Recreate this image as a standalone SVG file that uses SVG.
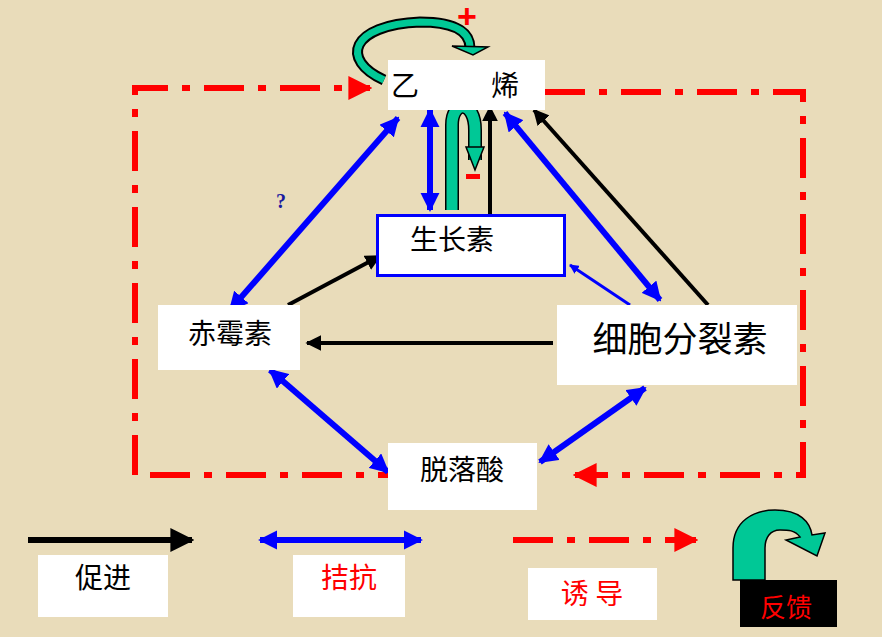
<svg xmlns="http://www.w3.org/2000/svg" width="882" height="637" viewBox="0 0 882 637">
<defs>
<marker id="bk" viewBox="0 0 10 10" refX="9" refY="5" markerWidth="4" markerHeight="4" orient="auto-start-reverse"><path d="M0,0L10,5L0,10z" fill="#000"/></marker>
<marker id="bl" viewBox="0 0 10 10" refX="9" refY="5" markerWidth="3.2" markerHeight="3.2" orient="auto-start-reverse"><path d="M0,0L10,5L0,10z" fill="#0000ff"/></marker>
<marker id="rd" viewBox="0 0 10 10" refX="9" refY="5" markerWidth="4" markerHeight="4" orient="auto-start-reverse"><path d="M0,0L10,5L0,10z" fill="#ff0000"/></marker>
</defs>
<style>
.box{fill:#fff}
.t{font-family:"Noto Sans CJK SC","Liberation Serif",serif;font-size:28px;fill:#000;text-anchor:middle;dominant-baseline:central}
.bk{stroke:#000;stroke-width:4;fill:none;marker-end:url(#bk)}
.bl{stroke:#0000ff;stroke-width:6;fill:none;marker-end:url(#bl);marker-start:url(#bl)}
.rd{stroke:#ff0000;stroke-width:6;fill:none;stroke-dasharray:40 14 8 14}
</style>
<rect width="882" height="637" fill="#e9dcba"/>
<g id="connectors">
<path class="rd" d="M135,475V88H370" marker-end="url(#rd)"/>
<path class="rd" d="M545,92H803V475H575" marker-end="url(#rd)"/>
<path class="rd" d="M150,475H388"/>
<line class="bl" x1="398" y1="118" x2="230" y2="310"/>
<line class="bl" x1="430" y1="110" x2="430" y2="210"/>
<line class="bl" x1="505" y1="113" x2="660" y2="300"/>
<line class="bl" x1="270" y1="370" x2="388" y2="472"/>
<line class="bl" x1="645" y1="388" x2="540" y2="462"/>
<line stroke="#0000ff" stroke-width="3" x1="630" y1="305" x2="570" y2="265" marker-end="url(#bl)"/>
<line class="bk" x1="490" y1="214" x2="490" y2="107"/>
<line class="bk" x1="708" y1="305" x2="534" y2="110"/>
<line class="bk" x1="288" y1="305" x2="380" y2="256"/>
<line class="bk" x1="553" y1="343" x2="307" y2="343"/>
</g>
<g id="loops">
<path d="M384,80C340,60 350,25 420,22C460,22 470,35 470,48" stroke="#000" stroke-width="11" fill="none"/>
<path d="M384,80C340,60 350,25 420,22C460,22 470,35 470,48" stroke="#00c896" stroke-width="7" fill="none"/>
<polygon points="452,46 488,47 473,55" fill="#00c896" stroke="#000" stroke-width="1.5"/>
<path d="M452,210V125C452,100 475,100 475,130V160" stroke="#000" stroke-width="14" fill="none"/>
<path d="M452,210V125C452,100 475,100 475,130V160" stroke="#00c896" stroke-width="11" fill="none"/>
<polygon points="466,147 484,147 475,170" fill="#00c896" stroke="#000" stroke-width="1.5"/>
<text x="467" y="28" font-family="Liberation Sans,sans-serif" font-size="34" font-weight="bold" fill="#ff0000" text-anchor="middle">+</text>
<rect x="466" y="174" width="14" height="5" fill="#ff0000"/>
<text x="281" y="208" font-family="Liberation Serif,serif" font-size="20" font-weight="bold" fill="#1a1aa0" text-anchor="middle">?</text>
</g>
<g id="n-yixi"><rect class="box" x="388" y="60" width="157" height="50"/><text class="t" x="405" y="84">乙</text><text class="t" x="505" y="84">烯</text></g>
<g id="n-shengzhangsu"><rect x="377.5" y="215.5" width="187" height="60" fill="#fff" stroke="#0000ff" stroke-width="3"/><text class="t" x="452" y="238">生长素</text></g>
<g id="n-chimeisu"><rect class="box" x="158" y="305" width="142" height="65"/><text class="t" x="230" y="332">赤霉素</text></g>
<g id="n-xibao"><rect class="box" x="557" y="305" width="240" height="80"/><text class="t" x="680" y="336" style="font-size:35px">细胞分裂素</text></g>
<g id="n-tuoluosuan"><rect class="box" x="388" y="443" width="149" height="67"/><text class="t" x="462" y="468">脱落酸</text></g>
<g id="legend">
<line class="bk" x1="28" y1="540" x2="192" y2="540" style="stroke-width:6"/>
<line class="bl" x1="260" y1="540" x2="421" y2="540"/>
<line class="rd" x1="513" y1="540" x2="696" y2="540" marker-end="url(#rd)"/>
<rect class="box" x="38" y="555" width="130" height="62"/><text class="t" x="103" y="576">促进</text>
<rect class="box" x="293" y="555" width="112" height="62"/><text class="t" x="349" y="576" style="fill:#ff0000">拮抗</text>
<rect class="box" x="528" y="568" width="129" height="52"/><text class="t" x="592" y="592" style="fill:#ff0000">诱 导</text>
<path d="M733,580V548C733,520 755,510 775,510C800,510 810,522 812,535L825,533L817,556L786,540L800,537C795,530 788,530 780,530C770,530 765,538 765,548V580Z" fill="#00c896" stroke="#000" stroke-width="1.5"/>
<rect x="740" y="580" width="97" height="47" fill="#000"/><text class="t" x="786" y="605" style="fill:#ff0000;font-size:26px">反馈</text>
</g>
</svg>
